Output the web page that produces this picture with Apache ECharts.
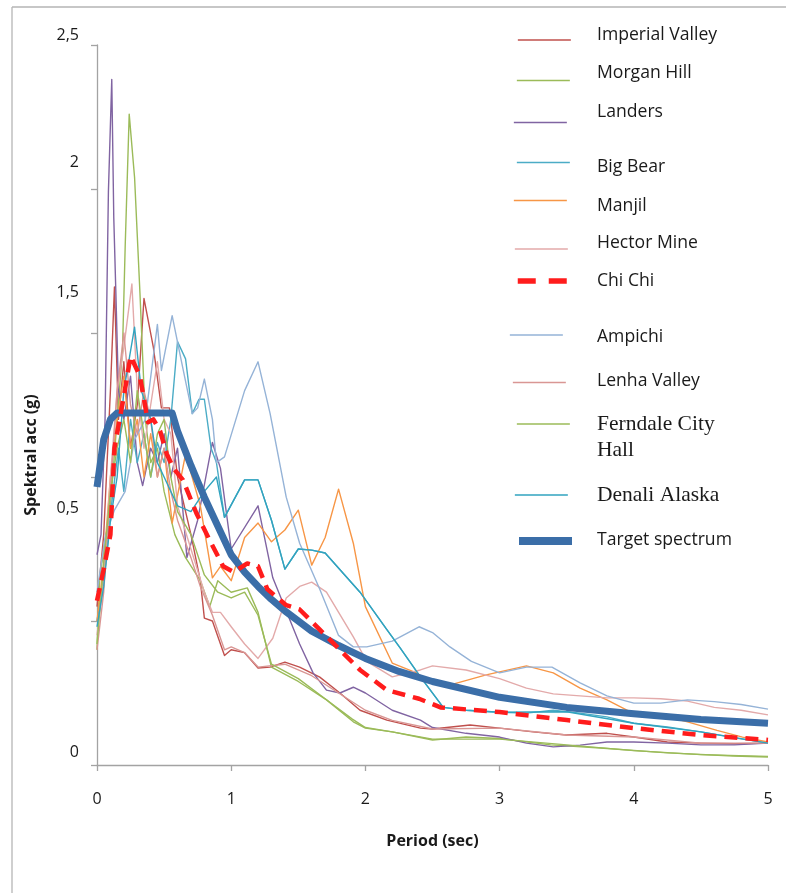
<!DOCTYPE html>
<html>
<head>
<meta charset="utf-8">
<script src="https://cdn.jsdelivr.net/npm/echarts@6/dist/echarts.min.js"></script>
<style>
  html, body { margin: 0; padding: 0; background: #fff; }
  #chart { width: 786px; height: 893px; }
</style>
</head>
<body>
<div id="chart"></div>
<script>
// ---------------- DATA (period in sec, spectral acceleration in g) ----------------
const imperialValley = [[0,0.55],[0.05,0.8],[0.1,1.3],[0.13,1.66],[0.16,1.2],[0.2,1.4],[0.25,1.1],[0.3,1.25],[0.35,1.62],[0.42,1.45],[0.48,1.24],[0.54,1.24],[0.6,1.0],[0.7,0.8],[0.77,0.64],[0.8,0.51],[0.86,0.5],[0.95,0.38],[1.0,0.4],[1.1,0.39],[1.2,0.337],[1.29,0.34],[1.4,0.357],[1.51,0.34],[1.66,0.305],[1.81,0.25],[1.96,0.19],[2.16,0.156],[2.41,0.128],[2.5,0.125],[2.78,0.139],[3,0.128],[3.25,0.115],[3.5,0.104],[3.8,0.11],[4,0.097],[4.25,0.08],[4.5,0.076],[4.75,0.074],[5,0.076]];
const morganHill = [[0,0.4],[0.02,0.65],[0.1,0.9],[0.15,1.2],[0.19,1.44],[0.21,1.8],[0.24,2.26],[0.28,2.04],[0.32,1.64],[0.36,1.2],[0.4,1.05],[0.45,1.1],[0.5,0.95],[0.58,0.8],[0.66,0.72],[0.77,0.64],[0.84,0.55],[0.9,0.64],[1.0,0.6],[1.12,0.615],[1.2,0.53],[1.3,0.34],[1.5,0.29],[1.71,0.226],[1.91,0.15],[2.0,0.128],[2.2,0.115],[2.5,0.087],[2.75,0.097],[3,0.092],[3.38,0.07],[3.75,0.059],[4.25,0.042],[4.74,0.031],[5,0.028]];
const landers = [[0,0.73],[0.03,0.8],[0.06,1.2],[0.085,1.99],[0.11,2.38],[0.125,1.9],[0.14,1.65],[0.16,1.3],[0.2,1.2],[0.25,1.35],[0.3,1.05],[0.34,0.97],[0.4,1.1],[0.45,1.05],[0.5,1.15],[0.55,1.0],[0.6,1.1],[0.67,0.72],[0.75,0.85],[0.86,1.12],[0.92,1.03],[1.0,0.75],[1.2,0.9],[1.31,0.65],[1.51,0.42],[1.61,0.32],[1.71,0.26],[1.81,0.25],[1.91,0.27],[2.0,0.25],[2.2,0.19],[2.41,0.156],[2.5,0.13],[2.75,0.11],[3,0.097],[3.2,0.076],[3.4,0.063],[3.6,0.069],[3.8,0.08],[4,0.08],[4.25,0.076],[4.5,0.07],[4.75,0.07],[5,0.076]];
const bigBear = [[0,0.5],[0.06,0.68],[0.11,0.91],[0.16,1.1],[0.2,0.95],[0.25,1.2],[0.3,1.05],[0.35,1.15],[0.4,1.0],[0.45,1.12],[0.5,1.05],[0.55,1.2],[0.6,1.47],[0.66,1.41],[0.71,1.22],[0.76,1.27],[0.8,1.27],[0.85,1.1],[0.89,1.05],[0.95,0.86],[1.1,0.99],[1.2,0.99],[1.3,0.85],[1.4,0.68],[1.5,0.75],[1.6,0.746],[1.7,0.736],[1.96,0.6],[2.16,0.47],[2.26,0.406],[2.41,0.306],[2.58,0.2],[2.75,0.19],[3,0.183],[3.2,0.18],[3.4,0.19],[3.6,0.18],[3.8,0.167],[4,0.145],[4.25,0.132],[4.5,0.115],[4.75,0.094],[5,0.076]];
const manjil = [[0,0.5],[0.05,0.7],[0.1,1.0],[0.15,1.2],[0.2,1.35],[0.25,1.1],[0.3,1.2],[0.35,1.0],[0.4,1.15],[0.45,1.0],[0.5,1.1],[0.56,0.84],[0.66,1.08],[0.77,0.9],[0.86,0.65],[0.92,0.69],[1.0,0.64],[1.1,0.79],[1.2,0.84],[1.3,0.775],[1.4,0.816],[1.5,0.885],[1.6,0.694],[1.7,0.79],[1.8,0.958],[1.91,0.77],[2.0,0.55],[2.2,0.354],[2.38,0.32],[2.46,0.295],[2.6,0.274],[2.9,0.313],[3.2,0.344],[3.4,0.32],[3.6,0.267],[3.8,0.226],[3.97,0.185],[4.25,0.167],[4.4,0.15],[4.62,0.12],[4.81,0.097],[5,0.08]];
const hectorMine = [[0,0.45],[0.05,0.65],[0.1,1.0],[0.15,1.3],[0.2,1.45],[0.26,1.67],[0.3,1.3],[0.35,1.1],[0.4,1.25],[0.45,1.4],[0.5,1.2],[0.55,1.15],[0.6,0.9],[0.7,0.75],[0.8,0.6],[0.86,0.53],[0.92,0.53],[1.0,0.48],[1.1,0.42],[1.2,0.37],[1.31,0.44],[1.41,0.58],[1.51,0.62],[1.6,0.635],[1.71,0.6],[1.91,0.445],[2.01,0.36],[2.2,0.306],[2.41,0.33],[2.5,0.344],[2.75,0.33],[3,0.3],[3.2,0.267],[3.4,0.247],[3.6,0.24],[3.8,0.233],[4,0.233],[4.2,0.23],[4.4,0.222],[4.6,0.2],[4.8,0.19],[5,0.174]];
const chiChi = [[0,0.57],[0.05,0.68],[0.1,0.8],[0.13,1.1],[0.2,1.28],[0.25,1.42],[0.32,1.35],[0.38,1.19],[0.42,1.2],[0.47,1.16],[0.52,1.08],[0.57,1.03],[0.64,0.99],[0.74,0.875],[0.84,0.78],[0.94,0.69],[1.02,0.67],[1.12,0.7],[1.2,0.69],[1.27,0.61],[1.41,0.555],[1.51,0.54],[1.66,0.47],[1.81,0.4],[1.96,0.33],[2.16,0.26],[2.4,0.23],[2.56,0.2],[3,0.184],[3.5,0.156],[4,0.128],[4.5,0.104],[5,0.087]];
const ampichi = [[0,0.6],[0.06,0.79],[0.13,0.885],[0.21,0.95],[0.28,1.13],[0.36,1.2],[0.45,1.53],[0.48,1.37],[0.56,1.56],[0.63,1.4],[0.71,1.22],[0.75,1.24],[0.8,1.34],[0.86,1.2],[0.89,1.05],[0.95,1.07],[1.1,1.3],[1.2,1.4],[1.29,1.22],[1.41,0.93],[1.51,0.77],[1.66,0.61],[1.8,0.45],[1.91,0.41],[2.01,0.41],[2.2,0.43],[2.4,0.48],[2.5,0.46],[2.63,0.41],[2.79,0.36],[3,0.32],[3.2,0.34],[3.39,0.34],[3.6,0.285],[3.8,0.24],[4,0.215],[4.2,0.215],[4.4,0.226],[4.6,0.22],[4.8,0.21],[5,0.194]];
const lenhaValley = [[0,0.4],[0.05,0.6],[0.1,0.95],[0.15,1.3],[0.2,1.5],[0.25,1.25],[0.3,1.15],[0.35,1.3],[0.4,1.2],[0.45,1.0],[0.5,1.1],[0.55,0.95],[0.6,0.85],[0.7,0.72],[0.77,0.62],[0.86,0.52],[0.95,0.4],[1.0,0.41],[1.1,0.39],[1.2,0.34],[1.4,0.35],[1.6,0.31],[1.8,0.25],[2.0,0.19],[2.2,0.155],[2.5,0.125],[3,0.128],[3.5,0.104],[4,0.097],[4.5,0.076],[5,0.076]];
const ferndaleCityHall = [[0,0.42],[0.05,0.7],[0.1,0.95],[0.15,1.1],[0.2,1.2],[0.25,1.05],[0.3,1.3],[0.35,1.15],[0.4,1.0],[0.45,1.15],[0.5,1.2],[0.55,1.0],[0.6,0.88],[0.7,0.8],[0.8,0.66],[0.9,0.6],[1.0,0.58],[1.1,0.6],[1.2,0.52],[1.3,0.35],[1.5,0.3],[1.7,0.23],[1.9,0.16],[2.0,0.13],[2.2,0.115],[2.5,0.09],[3,0.09],[3.5,0.07],[4,0.05],[4.5,0.036],[5,0.03]];
const denaliAlaska = [[0,0.48],[0.05,0.62],[0.1,0.85],[0.15,1.0],[0.2,1.3],[0.28,1.52],[0.33,1.3],[0.4,1.2],[0.45,1.05],[0.5,1.0],[0.55,0.95],[0.6,0.9],[0.7,0.88],[0.8,0.95],[0.89,1.0],[0.95,0.86],[1.1,0.99],[1.2,0.99],[1.3,0.85],[1.4,0.68],[1.5,0.75],[1.6,0.746],[1.7,0.736],[1.96,0.6],[2.16,0.47],[2.26,0.406],[2.41,0.306],[2.58,0.2],[2.75,0.19],[3,0.183],[3.5,0.185],[4,0.145],[4.5,0.115],[5,0.076]];
const targetSpectrum = [[0,0.965],[0.05,1.13],[0.1,1.2],[0.15,1.222],[0.56,1.222],[0.6,1.16],[0.65,1.1],[0.7,1.04],[0.75,0.985],[0.8,0.93],[0.9,0.83],[1.0,0.73],[1.1,0.67],[1.2,0.62],[1.3,0.575],[1.4,0.535],[1.6,0.465],[1.8,0.415],[2,0.37],[2.25,0.325],[2.5,0.29],[3,0.235],[3.5,0.2],[4,0.178],[4.5,0.158],[5,0.145]];

const xTicks = [0, 1, 2, 3, 4, 5];
const yTickLabels = { '0': '0', '0.5': '0,5', '1': '', '1.5': '1,5', '2': '2', '2.5': '2,5' };

// ---------------- STYLE / LAYOUT ----------------
const sans = '"Open Sans", Lato, sans-serif';
const serif = '"Liberation Serif", "DejaVu Serif", serif';
// how far each y label sits above its tick, as in the reference
const yLabelLift = { '0': 13, '0.5': 113, '1.5': 41, '2': 27, '2.5': 10 };

const seriesDefs = [
  { name: 'Imperial Valley', data: imperialValley, color: '#c0504d' },
  { name: 'Morgan Hill', data: morganHill, color: '#9bbb59' },
  { name: 'Landers', data: landers, color: '#8064a2' },
  { name: 'Big Bear', data: bigBear, color: '#4bacc6' },
  { name: 'Manjil', data: manjil, color: '#f79646' },
  { name: 'Hector Mine', data: hectorMine, color: '#e3aaaa' },
  { name: 'Ampichi', data: ampichi, color: '#95b3d7' },
  { name: 'Lenha Valley', data: lenhaValley, color: '#d99694' },
  { name: 'Ferndale City Hall', data: ferndaleCityHall, color: '#9bbb59' },
  { name: 'Denali Alaska', data: denaliAlaska, color: '#31a3bf' },
  { name: 'Target spectrum', data: targetSpectrum, color: '#3b6ea8', width: 7 },
  { name: 'Chi Chi', data: chiChi, color: '#ff1c1c', width: 4.5, dashed: true }
];

// legend placement: icon centre y / left x, text centre y
const legendLayout = [
  { name: 'Imperial Valley', iy: 40, ix: 517, ty: 35 },
  { name: 'Morgan Hill', iy: 80.5, ix: 516, ty: 73 },
  { name: 'Landers', iy: 122.5, ix: 513, ty: 112 },
  { name: 'Big Bear', iy: 162.5, ix: 516, ty: 167 },
  { name: 'Manjil', iy: 200.5, ix: 513, ty: 206 },
  { name: 'Hector Mine', iy: 249, ix: 514, ty: 243 },
  { name: 'Chi Chi', iy: 281, ix: 515, ty: 281, w: 5.5, dash: [18, 13] },
  { name: 'Ampichi', iy: 335, ix: 509, ty: 337 },
  { name: 'Lenha Valley', iy: 382.5, ix: 512, ty: 381 },
  { name: 'Ferndale City Hall', iy: 424, ix: 516, ty: 437.5, serif: true, text: 'Ferndale City\nHall' },
  { name: 'Denali Alaska', iy: 495, ix: 514, ty: 495, serif: true },
  { name: 'Target spectrum', iy: 541, ix: 515, ty: 540, w: 8 }
];
const textX = 597;
const iconW = 53;

const colorOf = {};
seriesDefs.forEach(s => { colorOf[s.name] = s.color; });

const legends = [];
legendLayout.forEach(l => {
  // line sample
  legends.push({
    data: [l.name], left: l.ix, top: l.iy - 5,
    itemWidth: iconW, itemHeight: 10, padding: 0, itemGap: 0,
    selectedMode: false,
    formatter: () => '',
    itemStyle: { opacity: 0 },
    lineStyle: { width: l.w || 1.7, type: l.dash || 'solid', color: colorOf[l.name], cap: 'butt' },
    textStyle: { fontSize: 1 }
  });
  // label text
  const fs = l.serif ? 21.5 : 17.6;
  const lh = l.serif ? 26 : 22;
  const lines = l.text ? 2 : 1;
  legends.push({
    data: [l.name], left: textX - 5, top: l.ty - lh * lines / 2,
    itemWidth: 0, itemHeight: 0, padding: 0, itemGap: 0,
    selectedMode: false,
    formatter: l.text ? () => l.text : '{name}',
    itemStyle: { opacity: 0 },
    lineStyle: { opacity: 0, width: 0 },
    textStyle: { fontFamily: l.serif ? serif : sans, fontSize: fs, lineHeight: lh, color: '#1a1a1a' }
  });
});

const rich = { t: { fontFamily: sans, fontSize: 16, color: '#1a1a1a', lineHeight: 18 } };
Object.keys(yLabelLift).forEach(k => {
  rich['p' + k.replace('.', '_')] = { fontSize: 1, lineHeight: 2 * yLabelLift[k] };
});

const chart = echarts.init(document.getElementById('chart'), null, { renderer: 'canvas' });
chart.setOption({
  backgroundColor: '#ffffff',
  animation: false,
  grid: { left: 97, right: 18, top: 45, bottom: 128, containLabel: false, outerBoundsMode: 'none' },
  legend: legends,
  xAxis: {
    type: 'value', min: 0, max: 5, interval: 1,
    name: 'Period (sec)', nameLocation: 'middle', nameGap: 68,
    nameTextStyle: { fontFamily: sans, fontSize: 16, fontWeight: 'bold', color: '#1a1a1a' },
    axisLine: { show: true, lineStyle: { color: '#a3a3a3', width: 1.3 } },
    axisTick: { show: true, length: 6, lineStyle: { color: '#a3a3a3', width: 1.3 } },
    splitLine: { show: false },
    axisLabel: {
      margin: 26, fontFamily: sans, fontSize: 16, color: '#1a1a1a',
      formatter: v => (xTicks.indexOf(v) >= 0 ? String(v) : '')
    }
  },
  yAxis: {
    type: 'value', min: 0, max: 2.5, interval: 0.5,
    name: 'Spektral acc (g)', nameLocation: 'middle', nameGap: 58,
    nameTextStyle: { fontFamily: sans, fontSize: 16, fontWeight: 'bold', color: '#1a1a1a', padding: [0, 100, 0, 0] },
    axisLine: { show: true, lineStyle: { color: '#a3a3a3', width: 1.3 } },
    axisTick: { show: true, length: 6, lineStyle: { color: '#a3a3a3', width: 1.3 } },
    splitLine: { show: false },
    axisLabel: {
      margin: 18,
      rich: rich,
      formatter: v => {
        const key = String(+v.toFixed(2));
        const t = yTickLabels[key];
        if (!t) return '';
        return '{t|' + t + '}\n{p' + key.replace('.', '_') + '| }';
      }
    }
  },
  graphic: [
    { type: 'line', shape: { x1: 12, y1: 7, x2: 786, y2: 7 }, style: { stroke: '#b5b5b5', lineWidth: 1.3 }, silent: true },
    { type: 'line', shape: { x1: 12, y1: 7, x2: 12, y2: 893 }, style: { stroke: '#b5b5b5', lineWidth: 1.3 }, silent: true }
  ],
  series: seriesDefs.map(s => ({
    name: s.name,
    type: 'line',
    data: s.data,
    showSymbol: false,
    symbol: 'none',
    smooth: false,
    color: s.color,
    lineStyle: {
      color: s.color,
      width: s.width || 1.4,
      type: s.dashed ? [13, 8] : 'solid',
      cap: 'butt',
      join: 'round'
    },
    emphasis: { disabled: true }
  }))
});
</script>
</body>
</html>
